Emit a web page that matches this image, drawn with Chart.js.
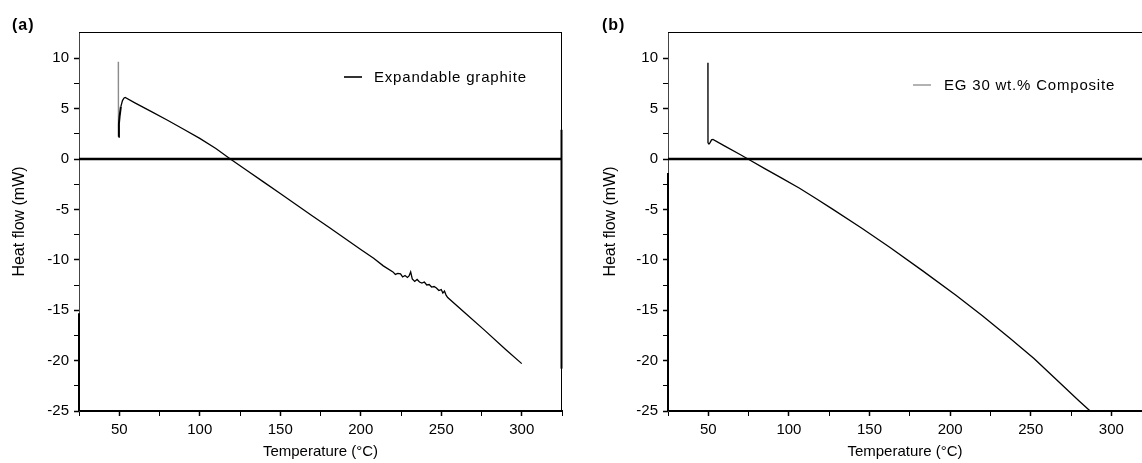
<!DOCTYPE html>
<html>
<head>
<meta charset="utf-8">
<script src="https://cdn.jsdelivr.net/npm/chart.js@4.4.1/dist/chart.umd.min.js"></script>
<style>
  html, body { margin: 0; padding: 0; background: #fff; }
  #wrap { position: relative; width: 1142px; height: 463px; overflow: hidden; }
  .panel { position: absolute; top: 0; width: 571px; height: 463px; }
  .tag { position: absolute; top: 16px; font: bold 16px "Liberation Sans", Arial, sans-serif; line-height: 18px; letter-spacing: 1px; }
</style>
</head>
<body>
<div id="wrap">
  <div class="panel" style="left:0"><canvas id="chartA" width="571" height="463"></canvas></div>
  <div class="panel" style="left:571px"><canvas id="chartB" width="571" height="463"></canvas></div>
  <div class="tag" style="left:12px">(a)</div>
  <div class="tag" style="left:602px">(b)</div>
</div>
<script>
// (a) expandable graphite, DSC trace
const tempA = [49.4, 49.5, 49.8, 50.2, 51, 52, 53, 53.7, 60, 70, 80, 90, 100, 110, 119,
  130, 140, 150, 160, 170, 180, 190, 200, 208, 214, 220, 221.5, 223, 224.7, 226, 227.5,
  229, 230, 231, 232, 233.5, 235, 236.5, 238, 239.5, 241, 242.5, 244, 245.5, 247, 248.5,
  250, 251, 252, 253, 254, 265, 277, 290, 300];
const heatA = [9.65, 2.2, 3.5, 4.2, 5.2, 5.8, 6.05, 6.1, 5.55, 4.7, 3.85, 2.95, 2.05, 1.05, 0,
  -1.22, -2.32, -3.43, -4.54, -5.65, -6.75, -7.86, -8.97, -9.85, -10.6, -11.2, -11.45, -11.35, -11.4, -11.7, -11.55,
  -11.75, -11.6, -11.2, -11.9, -12.15, -11.95, -12.2, -12.3, -12.2, -12.5, -12.45, -12.7, -12.65, -12.8, -13.05,
  -12.95, -13.3, -13.1, -13.5, -13.75, -15.3, -17.0, -18.9, -20.3];

// (b) EG 30 wt.% composite, DSC trace
const tempB = [49.75, 49.8, 50.4, 51, 52, 52.9, 60, 70, 74.6, 85, 95, 106.6, 117, 127.3, 145,
  162.5, 183, 203.8, 220, 236.9, 252, 266, 280, 286.5, 292];
const heatB = [9.55, 1.6, 1.49, 1.6, 1.9, 1.95, 1.3, 0.42, 0, -0.95, -1.85, -2.9, -3.95, -5.0, -6.85,
  -8.75, -11.1, -13.55, -15.55, -17.75, -19.8, -21.9, -24.0, -24.95, -25.7];

const xTickLabels = [50, 100, 150, 200, 250, 300];
const xMinorTicks = [25, 75, 125, 175, 225, 275, 325];
const yTickLabels = [-25, -20, -15, -10, -5, 0, 5, 10];
const yMinorTicks = [-22.5, -17.5, -12.5, -7.5, -2.5, 2.5, 7.5];

const FONT = '"Liberation Sans", Arial, Helvetica, sans-serif';

function tickList(major, minor, s) {
  return major.map(v => ({ value: v, major: true }))
    .concat(minor.map(v => ({ value: v, major: false })))
    .filter(t => t.value >= s.min && t.value <= s.max)
    .sort((a, b) => a.value - b.value);
}

// top / right edges of the box, plus the heavier stretches of the axes
const frame = {
  id: 'frame',
  afterDatasetsDraw(chart, args, opts) {
    const { ctx, chartArea: a } = chart;
    const y = chart.scales.y;
    ctx.save();
    ctx.strokeStyle = '#000';
    ctx.lineWidth = 1;
    ctx.beginPath();
    ctx.moveTo(a.left, a.top + 0.5);
    ctx.lineTo(a.right, a.top + 0.5);
    if (opts.right) {
      ctx.moveTo(a.right - 0.5, a.top);
      ctx.lineTo(a.right - 0.5, a.bottom);
    }
    ctx.stroke();
    (opts.heavy || []).forEach(h => {
      const x = h.side === 'left' ? a.left : a.right - 0.5;
      ctx.lineWidth = 2;
      ctx.beginPath();
      ctx.moveTo(x, y.getPixelForValue(h.from));
      ctx.lineTo(x, y.getPixelForValue(h.to));
      ctx.stroke();
    });
    ctx.restore();
  }
};

// small legend with a line sample
const sampleKey = {
  id: 'sampleKey',
  afterDraw(chart, args, opts) {
    const ctx = chart.ctx;
    const ds = chart.data.datasets[0];
    ctx.save();
    ctx.strokeStyle = opts.color;
    ctx.lineWidth = opts.width;
    ctx.beginPath();
    ctx.moveTo(opts.x, opts.y);
    ctx.lineTo(opts.x + 18, opts.y);
    ctx.stroke();
    ctx.fillStyle = '#000';
    ctx.font = '15px ' + FONT;
    ctx.letterSpacing = '0.8px';
    ctx.textBaseline = 'middle';
    ctx.fillText(ds.label, opts.textX, opts.y + 1);
    ctx.restore();
  }
};

function makeChart(id, cfg) {
  return new Chart(document.getElementById(id), {
    type: 'line',
    data: {
      datasets: [
        {
          label: cfg.label,
          data: cfg.temp.map((t, i) => ({ x: t, y: cfg.heat[i] })),
          borderColor: '#000',
          borderWidth: 1.3,
          pointRadius: 0,
          tension: 0,
          segment: cfg.segment || {}
        },
        {
          label: 'baseline',
          data: [{ x: 25, y: 0 }, { x: cfg.xMax, y: 0 }],
          borderColor: '#000',
          borderWidth: 2.6,
          pointRadius: 0
        }
      ]
    },
    options: {
      responsive: false,
      animation: false,
      events: [],
      layout: { padding: { top: 32, right: cfg.padRight, left: 0, bottom: 0 } },
      plugins: {
        legend: { display: false },
        tooltip: { enabled: false },
        frame: cfg.frame,
        sampleKey: cfg.key
      },
      scales: {
        x: {
          type: 'linear',
          min: 25,
          max: cfg.xMax,
          afterBuildTicks: s => { s.ticks = tickList(xTickLabels, xMinorTicks, s); },
          afterFit: s => { s.height = 52; },
          ticks: {
            autoSkip: false,
            maxRotation: 0,
            padding: 5,
            color: '#000',
            font: { family: FONT, size: 15 },
            callback: v => xTickLabels.includes(v) ? String(v) : ''
          },
          grid: {
            drawOnChartArea: false,
            drawTicks: true,
            tickLength: 5,
            tickColor: '#000',
            tickWidth: c => (c.tick && c.tick.major) ? 1.5 : 1
          },
          border: { display: true, color: '#000', width: 2 },
          title: {
            display: true,
            text: 'Temperature (°C)',
            color: '#000',
            font: { family: FONT, size: 15 },
            padding: { top: 0, bottom: 2 }
          }
        },
        y: {
          type: 'linear',
          min: -25,
          max: 12.6,
          afterBuildTicks: s => { s.ticks = tickList(yTickLabels, yMinorTicks, s); },
          afterFit: s => { s.width = cfg.yWidth; },
          ticks: {
            autoSkip: false,
            padding: 5,
            color: '#000',
            font: { family: FONT, size: 15 },
            callback: v => yTickLabels.includes(v) ? String(v) : ''
          },
          grid: {
            drawOnChartArea: false,
            drawTicks: true,
            tickLength: 5,
            tickColor: '#000',
            tickWidth: c => (c.tick && c.tick.major) ? 1.5 : 1
          },
          border: { display: true, color: '#444', width: 1 },
          title: {
            display: true,
            text: 'Heat flow (mW)',
            color: '#000',
            font: { family: FONT, size: 16 },
            padding: { top: cfg.yTitlePad, bottom: 0 }
          }
        }
      }
    },
    plugins: [frame, sampleKey]
  });
}

makeChart('chartA', {
  label: 'Expandable graphite',
  temp: tempA,
  heat: heatA,
  xMax: 325,
  padRight: 9,
  yWidth: 79,
  yTitlePad: 10,
  segment: {
    borderColor: c => c.p0DataIndex === 0 ? '#8c8c8c' : '#000',
    borderWidth: c => (c.p0DataIndex >= 1 && c.p0DataIndex <= 3) ? 2 : 1.3
  },
  frame: { right: true, heavy: [{ side: 'left', from: -25, to: -15.3 }, { side: 'right', from: 2.9, to: -20.8 }] },
  key: { x: 344, y: 77, textX: 374, color: '#000', width: 1.6 }
});

makeChart('chartB', {
  label: 'EG 30 wt.% Composite',
  temp: tempB,
  heat: heatB,
  xMax: 319,
  padRight: 0,
  yWidth: 97,
  yTitlePad: 30,
  frame: { right: false, heavy: [{ side: 'left', from: -25, to: -1.4 }] },
  key: { x: 342, y: 85, textX: 373, color: '#666', width: 1 }
});
</script>
</body>
</html>
